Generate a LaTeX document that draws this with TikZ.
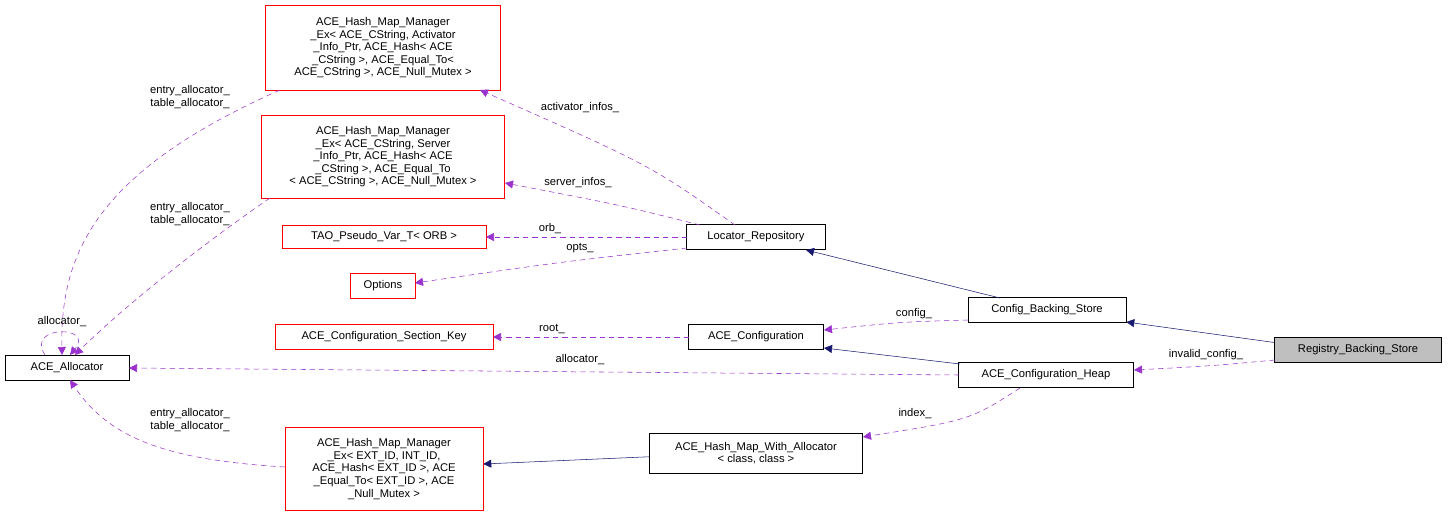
\documentclass[tikz,border=0pt]{standalone}
\usepackage{fontspec}
\setmainfont{Liberation Sans}
\usetikzlibrary{arrows.meta,shapes}
\definecolor{edgeblue}{HTML}{191970}
\definecolor{edgepurple}{HTML}{9A32CD}
\tikzset{
  cls/.style={draw=black, fill=white, inner sep=2pt, align=center, font=\fontsize{8.4}{9.4}\selectfont},
  redcls/.style={cls, draw=red},
  inherit/.style={draw=edgeblue, -{Triangle[length=6pt,width=6pt]}},
  use/.style={draw=edgepurple, dash pattern=on 4pt off 3pt, -{Triangle[length=6pt,width=6pt]}},
  lbl/.style={font=\fontsize{8.4}{9.4}\selectfont, align=center, inner sep=1pt}
}
\newcommand{\lt}{\textless}
\newcommand{\gt}{\textgreater}
\begin{document}
\begin{tikzpicture}[x=0.75pt, y=-0.75pt]
    \useasboundingbox (0,0) rectangle (1448,517);

    % left column
    \node(alloc) [cls, minimum width=124*0.75pt, minimum height=25*0.75pt] at (67,368) {ACE\_Allocator};
    \node(hmm1) [redcls, minimum width=235*0.75pt, minimum height=85*0.75pt] at (383,48)
        {ACE\_Hash\_Map\_Manager\\\_Ex\lt{} ACE\_CString, Activator\\\_Info\_Ptr, ACE\_Hash\lt{} ACE\\\_CString \gt, ACE\_Equal\_To\lt\\ ACE\_CString \gt, ACE\_Null\_Mutex \gt};
    \node(hmm2) [redcls, minimum width=243*0.75pt, minimum height=83*0.75pt] at (383,157)
        {ACE\_Hash\_Map\_Manager\\\_Ex\lt{} ACE\_CString, Server\\\_Info\_Ptr, ACE\_Hash\lt{} ACE\\\_CString \gt, ACE\_Equal\_To\\\lt{} ACE\_CString \gt, ACE\_Null\_Mutex \gt};
    \node(tao) [redcls, minimum width=204*0.75pt, minimum height=23*0.75pt] at (384,237) {TAO\_Pseudo\_Var\_T\lt{} ORB \gt};
    \node(opts) [redcls, minimum width=65*0.75pt, minimum height=25*0.75pt] at (383,286) {Options};
    \node(seckey) [redcls, minimum width=218*0.75pt, minimum height=25*0.75pt] at (384,337) {ACE\_Configuration\_Section\_Key};
    \node(hmm3) [redcls, minimum width=198*0.75pt, minimum height=83*0.75pt] at (384,469)
        {ACE\_Hash\_Map\_Manager\\\_Ex\lt{} EXT\_ID, INT\_ID,\\ ACE\_Hash\lt{} EXT\_ID \gt, ACE\\\_Equal\_To\lt{} EXT\_ID \gt, ACE\\\_Null\_Mutex \gt};

    % middle column
    \node(locrep) [cls, minimum width=139*0.75pt, minimum height=25*0.75pt] at (756,237) {Locator\_Repository};
    \node(config) [cls, minimum width=135*0.75pt, minimum height=25*0.75pt] at (756,337) {ACE\_Configuration};
    \node(hmwa) [cls, minimum width=213*0.75pt, minimum height=40*0.75pt] at (756,453) {ACE\_Hash\_Map\_With\_Allocator\\\lt{} class, class \gt};

    % right column
    \node(cbs) [cls, minimum width=158*0.75pt, minimum height=25*0.75pt] at (1047,310) {Config\_Backing\_Store};
    \node(heap) [cls, minimum width=175*0.75pt, minimum height=25*0.75pt] at (1046,375) {ACE\_Configuration\_Heap};
    \node(rbs) [cls, fill=black!25, minimum width=167*0.75pt, minimum height=25*0.75pt] at (1358,350) {Registry\_Backing\_Store};

    % inheritance
    \draw [inherit] (rbs.west) ++(0,-10*0.75) -- (cbs.east |- 0,322);
    \draw [inherit] (1000,298) -- (806,250);
    \draw [inherit] (960,364) -- (824,348);
    \draw [inherit] (hmwa.west) ++(0,5*0.75) -- (hmm3.east |- 0,464);

    % members
    \draw [use] (1275,360) .. controls (1210,366) .. (1134,370);
    \node(l1) [lbl] at (1206,355) {invalid\_config\_};
    \draw [use] (968,320) .. controls (900,322) .. (824,330);
    \node(l2) [lbl] at (914,314) {config\_};
    \draw [use] (735,225) .. controls (650,165) .. (480,90);
    \node(l3) [lbl] at (580,108) {activator\_infos\_};
    \draw [use] (700,225) .. controls (620,205) .. (505,183);
    \node(l4) [lbl] at (578,183) {server\_infos\_};
    \draw [use] (687,237) -- (486,237);
    \node(l5) [lbl] at (550,229) {orb\_};
    \draw [use] (687,248) .. controls (560,262) .. (415,283);
    \node(l6) [lbl] at (580,248) {opts\_};
    \draw [use] (689,337) -- (493,337);
    \node(l7) [lbl] at (552,329) {root\_};
    \draw [use] (959,375) .. controls (600,372) .. (129,368);
    \node(l8) [lbl] at (580,360) {allocator\_};
    \draw [use] (1020,388) .. controls (970,420) .. (863,437);
    \node(l9) [lbl] at (915,414) {index\_};
    \draw [use] (280,90) .. controls (100,170) and (60,250) .. (62,355);
    \node(l10) [lbl] at (190,97) {entry\_allocator\_\\table\_allocator\_};
    \draw [use] (270,198) .. controls (180,260) and (110,320) .. (75,355);
    \node(l11) [lbl] at (190,214) {entry\_allocator\_\\table\_allocator\_};
    \draw [use] (285,467) .. controls (170,460) and (110,440) .. (70,380);
    \node(l12) [lbl] at (190,420) {entry\_allocator\_\\table\_allocator\_};
    \draw [use] (45,355) .. controls (25,325) and (95,325) .. (70,355);
    \node(l13) [lbl] at (62,322) {allocator\_};
\end{tikzpicture}
\end{document}
